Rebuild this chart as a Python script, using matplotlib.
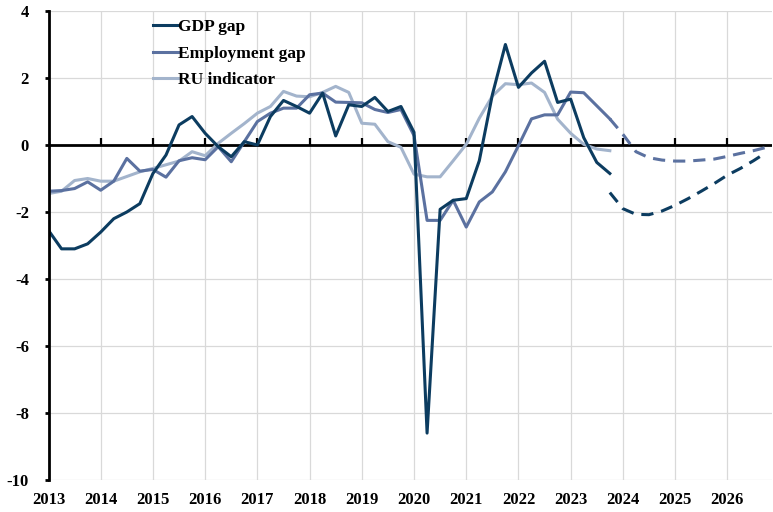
import numpy as np
import matplotlib
matplotlib.use("Agg")
import matplotlib.pyplot as plt

# Output gap indicators, quarterly 2013Q1 - 2023Q4
gdp_gap = [-2.55, -3.1, -3.1, -2.95,
           -2.6, -2.2, -2.0, -1.75,
           -0.85, -0.3, 0.6, 0.85,
           0.35, -0.05, -0.35, 0.1,
           0.0, 0.85, 1.33, 1.15,
           0.95, 1.55, 0.27, 1.2,
           1.15, 1.42, 1.0, 1.15,
           0.38, -8.6, -1.92, -1.65,
           -1.6, -0.47, 1.5, 3.0,
           1.72, 2.15, 2.5, 1.27,
           1.37, 0.22, -0.52, -0.85]

employment_gap = [-1.38, -1.36, -1.3, -1.1,
                  -1.35, -1.08, -0.4, -0.78,
                  -0.73, -0.96, -0.47, -0.38,
                  -0.44, -0.05, -0.5, 0.1,
                  0.7, 0.95, 1.1, 1.1,
                  1.5, 1.55, 1.28, 1.27,
                  1.26, 1.06, 0.97, 1.06,
                  0.28, -2.25, -2.25, -1.65,
                  -2.45, -1.7, -1.4, -0.8,
                  -0.02, 0.78, 0.9, 0.9,
                  1.58, 1.56, 1.17, 0.78]

ru_indicator = [-1.45, -1.38, -1.06, -1.0,
                -1.08, -1.08, -0.94, -0.8,
                -0.7, -0.59, -0.48, -0.2,
                -0.32, 0.05, 0.35, 0.64,
                0.95, 1.15, 1.6, 1.46,
                1.44, 1.57, 1.75, 1.57,
                0.65, 0.62, 0.1, -0.07,
                -0.87, -0.95, -0.95, -0.47,
                0.02, 0.8, 1.46, 1.83,
                1.8, 1.85, 1.57, 0.77,
                0.35, 0.02, -0.12, -0.17]

# Projections, 2023Q4 - 2026Q4
gdp_gap_proj = [-1.42, -1.9, -2.07, -2.08, -1.97, -1.8, -1.6,
                -1.38, -1.15, -0.9, -0.7, -0.47, -0.22]
employment_gap_proj = [0.78, 0.32, -0.2, -0.38, -0.45, -0.48, -0.48,
                       -0.45, -0.42, -0.34, -0.25, -0.17, -0.07]

years = list(range(2013, 2027))
y_ticks = [4, 2, 0, -2, -4, -6, -8, -10]
y_labels = ["4", "2", "0", "-2", "-4", "-6", "-8", "-10"]

# quarter positions
start = 2013
x_hist = start + np.arange(len(gdp_gap)) / 4
x_proj = x_hist[-1] + np.arange(len(gdp_gap_proj)) / 4

c_gdp = "#0c3c60"
c_emp = "#5b71a0"
c_ru = "#a3b4cc"

plt.rcParams['font.family'] = ['Liberation Serif', 'DejaVu Serif']
plt.rcParams['font.weight'] = 'bold'

fig = plt.figure(figsize=(7.73, 5.12), dpi=100)
ax = fig.add_axes([48.5 / 773, 1 - 480 / 512, 1 - 48.5 / 773 - 0.001, (480 - 11) / 512])

ax.plot(x_hist, gdp_gap, color=c_gdp, lw=2.2, label="GDP gap", zorder=5)
ax.plot(x_hist, employment_gap, color=c_emp, lw=2.2, label="Employment gap", zorder=4)
ax.plot(x_hist, ru_indicator, color=c_ru, lw=2.2, label="RU indicator", zorder=3)
ax.plot(x_proj, gdp_gap_proj, color=c_gdp, lw=2.2, dashes=(4, 2.6), zorder=5)
ax.plot(x_proj, employment_gap_proj, color=c_emp, lw=2.2, dashes=(4, 2.6), zorder=4)

# zero line with small upward tick marks at each year
ax.axhline(0, color="black", lw=2.0, zorder=2)
ax.plot(years, np.zeros(len(years)), ls="none", marker=2, ms=5, mew=1.6,
        color="black", zorder=2)

ax.set_xlim(2013, 2026.86)
ax.set_ylim(-10, 4)
ax.set_xticks(years)
ax.set_xticklabels([str(y) for y in years], fontsize=12, fontweight='bold')
ax.set_yticks(y_ticks)
ax.set_yticklabels(y_labels, fontsize=12, fontweight='bold')

ax.grid(True, color="#d9d9d9", lw=0.9, zorder=0)
ax.set_axisbelow(True)

for side in ["top", "right", "bottom"]:
    ax.spines[side].set_visible(False)
ax.spines["left"].set_linewidth(2.0)
ax.spines["left"].set_zorder(6)

ax.tick_params(axis="x", length=0, pad=9)
ax.tick_params(axis="y", direction="out", length=3, width=2, pad=11)

leg = ax.legend(loc="upper left", bbox_to_anchor=(0.14, 0.99), frameon=False,
                prop={'size': 12.5, 'weight': 'bold'}, handlelength=1.4,
                handletextpad=0.05, labelspacing=0.6, borderpad=0.2,
                borderaxespad=0)

fig.savefig("out.png", dpi=100)
